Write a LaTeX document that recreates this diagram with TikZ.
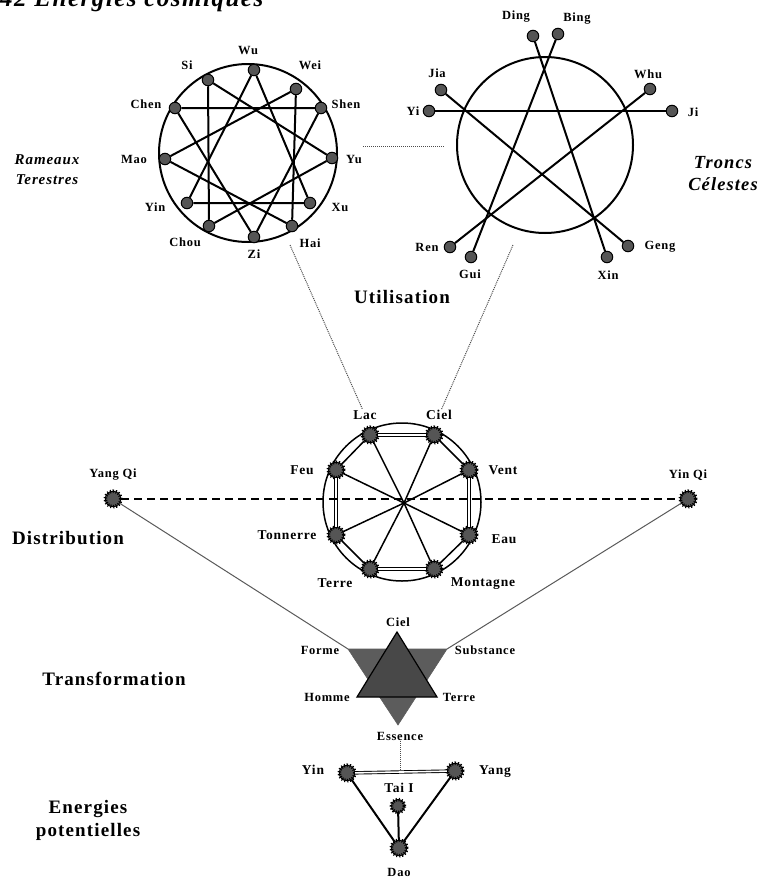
\documentclass[tikz,border=0pt]{standalone}
\usepackage{fontspec}
\setmainfont{Liberation Serif}
\newfontfamily\spacedserif[LetterSpace=6]{Liberation Serif}
\usetikzlibrary{positioning}
\definecolor{dotgray}{RGB}{85,85,85}
\definecolor{hightri}{RGB}{72,72,72}
\definecolor{lowtri}{RGB}{92,92,92}
\tikzset{
  tag/.style={font=\spacedserif\bfseries\fontsize{12.5}{12.5}\selectfont, inner sep=1pt},
  bigtag/.style={font=\spacedserif\bfseries\fontsize{13.5}{13.5}\selectfont, inner sep=1pt},
  section/.style={font=\spacedserif\bfseries\fontsize{19}{23}\selectfont, align=center},
  cycletitle/.style={font=\spacedserif\bfseries\itshape\fontsize{15}{20}\selectfont, align=center},
  ring/.style={draw=black, line width=2pt},
  bond/.style={draw=black, line width=2pt},
  bdot/.style={circle, draw=black, line width=1pt, fill=dotgray, minimum size=11.5pt, inner sep=0pt},
  sun/.style={circle, draw=black, line width=0.9pt, fill=dotgray, minimum size=15.5pt, inner sep=0pt,
              postaction={draw=black, line width=3.6pt, dash pattern=on 1.1pt off 1.7pt}},
  spoke/.style={line width=1.5pt},
  twin/.style={double, line width=0.9pt, double distance=1.6pt},
  linkdots/.style={draw=gray!60!black, line width=1pt, dash pattern=on 1pt off 1pt},
  qiline/.style={line width=1.7pt, dash pattern=on 8pt off 5pt},
  qithin/.style={draw=gray!70!black, line width=1pt}
}
\begin{document}
\begin{tikzpicture}[x=1pt, y=-1pt]
  % Frame to fix the page size
  \useasboundingbox (0,0) rectangle (764,878);
  % Title (cut by the top edge)
  \node[font=\spacedserif\bfseries\itshape\fontsize{25}{25}\selectfont, anchor=base west, inner sep=0pt]
       (title) at (0,6) {42 Energies cosmiques};

  % Rameaux Terestres
  \draw[ring] (248,153) circle (89pt);
  \node[bdot] (brWu)   at (254,70)  {};
  \node[bdot] (brSi)   at (208,80)  {};
  \node[bdot] (brWei)  at (296,89)  {};
  \node[bdot] (brChen) at (175,108) {};
  \node[bdot] (brShen) at (321,108) {};
  \node[bdot] (brMao)  at (165,159) {};
  \node[bdot] (brYu)   at (332,158) {};
  \node[bdot] (brYin)  at (187,203) {};
  \node[bdot] (brXu)   at (310,203) {};
  \node[bdot] (brChou) at (209,226) {};
  \node[bdot] (brHai)  at (292,226) {};
  \node[bdot] (brZi)   at (254,237) {};
  \draw[bond] (brWu) -- (brYin) -- (brXu) -- (brWu);
  \draw[bond] (brZi) -- (brShen) -- (brChen) -- (brZi);
  \draw[bond] (brMao) -- (brWei) -- (brHai) -- (brMao);
  \draw[bond] (brYu) -- (brSi) -- (brChou) -- (brYu);
  \node[tag] (brWuLbl)   at (248,51)  {Wu};
  \node[tag] (brSiLbl)   at (187,65)  {Si};
  \node[tag] (brWeiLbl)  at (310,65)  {Wei};
  \node[tag] (brChenLbl) at (146,104) {Chen};
  \node[tag] (brShenLbl) at (346,104) {Shen};
  \node[tag] (brMaoLbl)  at (134,159) {Mao};
  \node[tag] (brYuLbl)   at (354,159) {Yu};
  \node[tag] (brYinLbl)  at (155,207) {Yin};
  \node[tag] (brXuLbl)   at (340,207) {Xu};
  \node[tag] (brChouLbl) at (185,242) {Chou};
  \node[tag] (brHaiLbl)  at (310,243) {Hai};
  \node[tag] (brZiLbl)   at (254,254) {Zi};
  \node[cycletitle] (branches) at (47,170) {Rameaux\\Terestres};

  % Troncs Celestes
  \draw[ring] (545,145) circle (88pt);
  \node[bdot] (stDing) at (533,36)  {};
  \node[bdot] (stBing) at (558,34)  {};
  \node[bdot] (stJia)  at (441,90)  {};
  \node[bdot] (stWhu)  at (650,89)  {};
  \node[bdot] (stYi)   at (429,111) {};
  \node[bdot] (stJi)   at (672,111) {};
  \node[bdot] (stRen)  at (450,247) {};
  \node[bdot] (stGui)  at (471,257) {};
  \node[bdot] (stGeng) at (628,246) {};
  \node[bdot] (stXin)  at (607,257) {};
  \draw[bond] (stYi) -- (stJi);
  \draw[bond] (stJia) -- (stGeng);
  \draw[bond] (stWhu) -- (stRen);
  \draw[bond] (stDing) -- (stXin);
  \draw[bond] (stBing) -- (stGui);
  \node[tag] (stDingLbl) at (516,17)  {Ding};
  \node[tag] (stBingLbl) at (577,19)  {Bing};
  \node[tag] (stJiaLbl)  at (437,73)  {Jia};
  \node[tag] (stWhuLbl)  at (648,74)  {Whu};
  \node[tag] (stYiLbl)   at (413,111) {Yi};
  \node[tag] (stJiLbl)   at (693,112) {Ji};
  \node[tag] (stRenLbl)  at (427,247) {Ren};
  \node[tag] (stGuiLbl)  at (470,274) {Gui};
  \node[tag] (stGengLbl) at (660,247) {Geng};
  \node[tag] (stXinLbl)  at (608,275) {Xin};
  \node[cycletitle, font=\spacedserif\bfseries\itshape\fontsize{18.5}{22}\selectfont] (stems) at (723,174) {Troncs\\C\'elestes};

  % Utilisation
  \coordinate (gapLeft)  at (363,146);
  \coordinate (gapRight) at (445,146);
  \draw[linkdots] (gapLeft) -- (gapRight);
  \node[section] (use) at (402,297) {Utilisation};

  % Distribution: the eight trigrams
  \draw[ring, line width=1.5pt] (402,502) circle (79pt);
  \coordinate (hub) at (404,503);
  \node[sun] (tgLac)  at (370,435) {};
  \node[sun] (tgCiel) at (434,435) {};
  \node[sun] (tgFeu)  at (336,470) {};
  \node[sun] (tgVent) at (469,470) {};
  \node[sun] (tgTon)  at (336,535) {};
  \node[sun] (tgEau)  at (469,535) {};
  \node[sun] (tgTerre) at (370,569) {};
  \node[sun] (tgMont) at (434,569) {};
  \draw[spoke] (tgLac) -- (hub);
  \draw[spoke] (tgCiel) -- (hub);
  \draw[spoke] (tgFeu) -- (hub);
  \draw[spoke] (tgVent) -- (hub);
  \draw[spoke] (tgTon) -- (hub);
  \draw[spoke] (tgEau) -- (hub);
  \draw[spoke] (tgTerre) -- (hub);
  \draw[spoke] (tgMont) -- (hub);
  \draw[twin] (tgLac) -- (tgCiel);
  \draw[twin] (tgFeu) -- (tgTon);
  \draw[twin] (tgVent) -- (tgEau);
  \draw[twin] (tgTerre) -- (tgMont);
  \draw[spoke] (tgLac) -- (tgFeu);
  \draw[spoke] (tgCiel) -- (tgVent);
  \draw[spoke] (tgTon) -- (tgTerre);
  \draw[spoke] (tgEau) -- (tgMont);
  \node[bigtag] (tgLacLbl)   at (365,415) {Lac};
  \node[bigtag] (tgCielLbl)  at (439,415) {Ciel};
  \node[bigtag] (tgFeuLbl)   at (302,470) {Feu};
  \node[bigtag] (tgVentLbl)  at (503,470) {Vent};
  \node[bigtag] (tgTonLbl)   at (287,535) {Tonnerre};
  \node[bigtag] (tgEauLbl)   at (504,539) {Eau};
  \node[bigtag] (tgTerreLbl) at (335,583) {Terre};
  \node[bigtag] (tgMontLbl)  at (483,584) {Montagne};
  \coordinate (hubLeft)  at (290,245);
  \coordinate (hubRight) at (513,245);
  \draw[linkdots] (hubLeft) -- (tgLacLbl);
  \draw[linkdots] (hubRight) -- (tgCielLbl);

  % Yang Qi / Yin Qi
  \node[sun] (yangQi) at (113,499) {};
  \node[sun] (yinQi)  at (688,499) {};
  \node[tag] (yangQiLbl) at (113,475) {Yang Qi};
  \node[tag] (yinQiLbl)  at (688,475) {Yin Qi};
  \draw[qiline] (yangQi) -- (yinQi);
  \node[section] (spread) at (68,538) {Distribution};

  % Transformation
  \coordinate (tfForme)   at (348,649);
  \coordinate (tfSubst)   at (447,649);
  \coordinate (tfEssence) at (398,725);
  \coordinate (tfCiel)    at (397,632);
  \coordinate (tfHomme)   at (357,697);
  \coordinate (tfTerre)   at (437,697);
  \draw[qithin] (yangQi) -- (tfForme);
  \draw[qithin] (yinQi) -- (tfSubst);
  \filldraw[fill=lowtri, draw=lowtri, line width=0.6pt] (tfForme) -- (tfSubst) -- (tfEssence) -- cycle;
  \filldraw[fill=hightri, draw=black, line width=1.2pt] (tfCiel) -- (tfHomme) -- (tfTerre) -- cycle;
  \node[tag] (tfCielLbl)    at (398,622) {Ciel};
  \node[tag] (tfFormeLbl)   at (320,650) {Forme};
  \node[tag] (tfSubstLbl)   at (485,650) {Substance};
  \node[tag] (tfHommeLbl)   at (327,697) {Homme};
  \node[tag] (tfTerreLbl)   at (459,697) {Terre};
  \node[tag] (tfEssenceLbl) at (400,736) {Essence};
  \node[section] (change) at (114,679) {Transformation};

  % Energies potentielles
  \node[sun] (enYin)  at (347,773) {};
  \node[sun] (enYang) at (455,771) {};
  \node[sun, minimum size=13pt] (enTai) at (398,806) {};
  \node[sun] (enDao)  at (399,848) {};
  \coordinate (taiTop) at (400,772);
  \draw[linkdots] (tfEssenceLbl) -- (taiTop);
  \draw[twin] (enYin) -- (enYang);
  \draw[bond] (enYin) -- (enDao);
  \draw[bond] (enYang) -- (enDao);
  \draw[bond] (enTai) -- (enDao);
  \node[bigtag] (enYinLbl)  at (313,770) {Yin};
  \node[bigtag] (enYangLbl) at (495,772) {Yang};
  \node[bigtag] (enTaiLbl)  at (399,788) {Tai I};
  \node[tag]    (enDaoLbl)  at (399,872) {Dao};
  \node[section] (potential) at (88,820) {Energies\\potentielles};
\end{tikzpicture}
\end{document}
